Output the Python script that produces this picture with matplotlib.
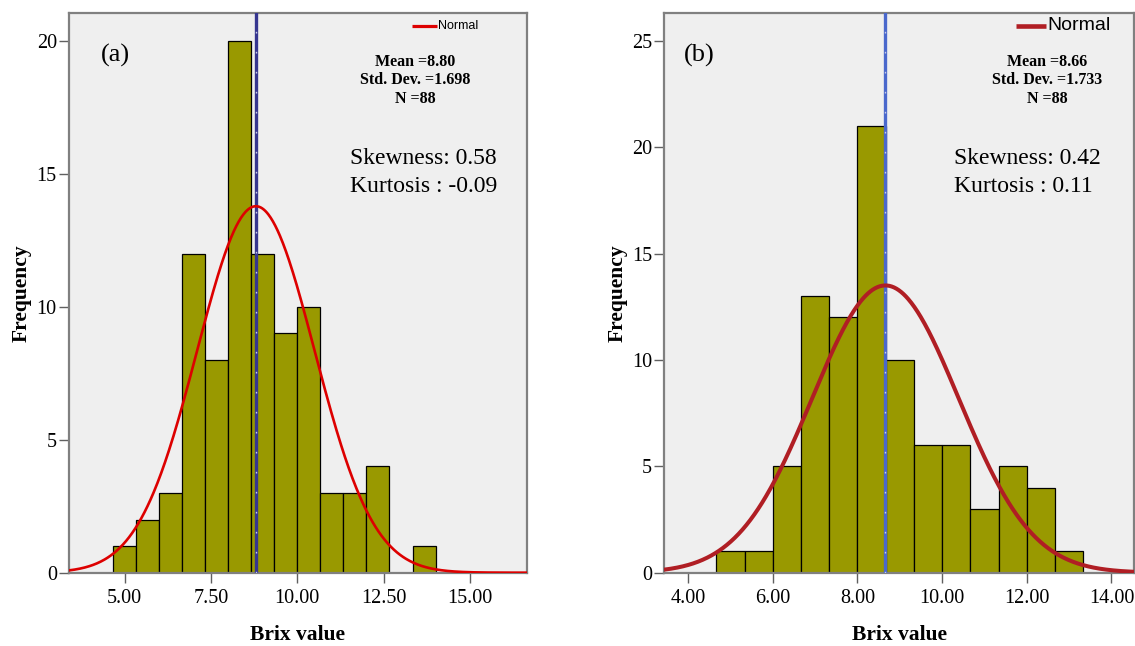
import numpy as np
import matplotlib
matplotlib.use("Agg")
import matplotlib.pyplot as plt

# Histogram data (Brix value, 88 samples per panel)
bin_start = 14 / 3
bin_width = 2 / 3
counts_a = [1, 2, 3, 12, 8, 20, 12, 9, 10, 3, 3, 4, 0, 1]
counts_b = [1, 1, 5, 13, 12, 21, 10, 6, 6, 3, 5, 4, 1]

mean_a, sd_a, n_a = 8.80, 1.698, 88
mean_b, sd_b, n_b = 8.66, 1.733, 88
skew_a, kurt_a = "0.58", "-0.09"
skew_b, kurt_b = "0.42", "0.11"

xticks_a = [5.0, 7.5, 10.0, 12.5, 15.0]
xticks_b = [4.0, 6.0, 8.0, 10.0, 12.0, 14.0]
yticks_a = [0, 5, 10, 15, 20]
yticks_b = [0, 5, 10, 15, 20, 25]

SERIF = "Liberation Serif"
SANS = "Liberation Sans"
BG = "#efefef"
BAR = "#999900"
FRAME = "#808080"

fig = plt.figure(figsize=(11.35, 6.46), dpi=100)
W, H = 1135, 646


def axes_px(left, top, right, bottom):
    return fig.add_axes([left / W, 1 - bottom / H, (right - left) / W, (bottom - top) / H])


def panel(ax, counts, mean, sd, n, xlim, ylim, xticks, yticks, curve_color, curve_lw,
          line_color, tag, skew, kurt, legend_size, legend_xy, stats_x, skew_x):
    ax.set_facecolor(BG)
    edges = bin_start + bin_width * np.arange(len(counts))
    ax.bar(edges, counts, width=bin_width, align="edge", color=BAR,
           edgecolor="black", linewidth=0.9, zorder=2)
    # mean reference line
    ax.axvline(mean, color=line_color, lw=2.4, zorder=3)
    ax.axvline(mean, color="#c8cce8", lw=1.0, dashes=(1.2, 13.2), zorder=3.1)
    # fitted normal curve scaled to counts
    xs = np.linspace(xlim[0], xlim[1], 600)
    ys = n * bin_width * np.exp(-0.5 * ((xs - mean) / sd) ** 2) / (sd * np.sqrt(2 * np.pi))
    ax.plot(xs, ys, color=curve_color, lw=curve_lw, zorder=4, solid_capstyle="butt")

    ax.set_xlim(*xlim)
    ax.set_ylim(*ylim)
    ax.set_xticks(xticks)
    ax.set_xticklabels([f"{t:.2f}" for t in xticks], fontfamily=SERIF, fontsize=14.5)
    ax.set_yticks(yticks)
    ax.set_yticklabels([str(t) for t in yticks], fontfamily=SERIF, fontsize=14.5)
    ax.tick_params(axis="both", direction="out", length=7, width=1.0, color="#606060")
    ax.tick_params(axis="x", pad=5)
    ax.tick_params(axis="y", pad=1.5)
    for s in ax.spines.values():
        s.set_color(FRAME)
        s.set_linewidth(1.6)
    ax.set_xlabel("Brix value", fontfamily=SERIF, fontsize=15.5, fontweight="bold", labelpad=12)
    ax.set_ylabel("Frequency", fontfamily=SERIF, fontsize=15.5, fontweight="bold", labelpad=3.5)

    tr = ax.transAxes
    bb = ax.get_position()

    def fx(px):
        return (px / W - bb.x0) / bb.width

    def fy(py):
        return ((1 - py / H) - bb.y0) / bb.height

    ax.text(fx(legend_xy[0]), fy(legend_xy[1]), "Normal", transform=tr, ha="left", va="center",
            fontfamily=SANS, fontsize=legend_size)
    ax.plot([fx(legend_xy[2]), fx(legend_xy[0] - 1)], [fy(legend_xy[1])] * 2, transform=tr,
            color=curve_color, lw=curve_lw + 0.4, solid_capstyle="butt", clip_on=False)
    ax.text(fx(stats_x), fy(62), f"Mean ={mean:.2f}", transform=tr, ha="center", va="center",
            fontfamily=SERIF, fontsize=11.5, fontweight="bold")
    ax.text(fx(stats_x), fy(80.5), f"Std. Dev. ={sd:.3f}", transform=tr, ha="center", va="center",
            fontfamily=SERIF, fontsize=11.5, fontweight="bold")
    ax.text(fx(stats_x), fy(99), f"N ={n}", transform=tr, ha="center", va="center",
            fontfamily=SERIF, fontsize=11.5, fontweight="bold")
    ax.text(fx(skew_x), fy(158), f"Skewness: {skew}", transform=tr, ha="left", va="center",
            fontfamily=SERIF, fontsize=17)
    ax.text(fx(skew_x), fy(186), f"Kurtosis : {kurt}", transform=tr, ha="left", va="center",
            fontfamily=SERIF, fontsize=17)
    ax.text(fx(tag[1]), fy(55), tag[0], transform=tr, ha="left", va="center",
            fontfamily=SERIF, fontsize=19)


ax_a = axes_px(68.6, 13.3, 527.1, 572.7)
ax_b = axes_px(664.0, 13.3, 1134.3, 572.7)

panel(ax_a, counts_a, mean_a, sd_a, n_a, (3.38, 16.65), (0, 21.04), xticks_a, yticks_a,
      "#dd0000", 1.9, "#363690", ("(a)", 101), skew_a, kurt_a, 9,
      (438, 25.7, 411.7), 415, 350)
panel(ax_b, counts_b, mean_b, sd_b, n_b, (3.43, 14.54), (0, 26.3), xticks_b, yticks_b,
      "#b01e24", 2.9, "#4a68cc", ("(b)", 684), skew_b, kurt_b, 14,
      (1047, 26, 1016), 1047, 954.5)

fig.savefig("out.png", dpi=100, facecolor="white")
